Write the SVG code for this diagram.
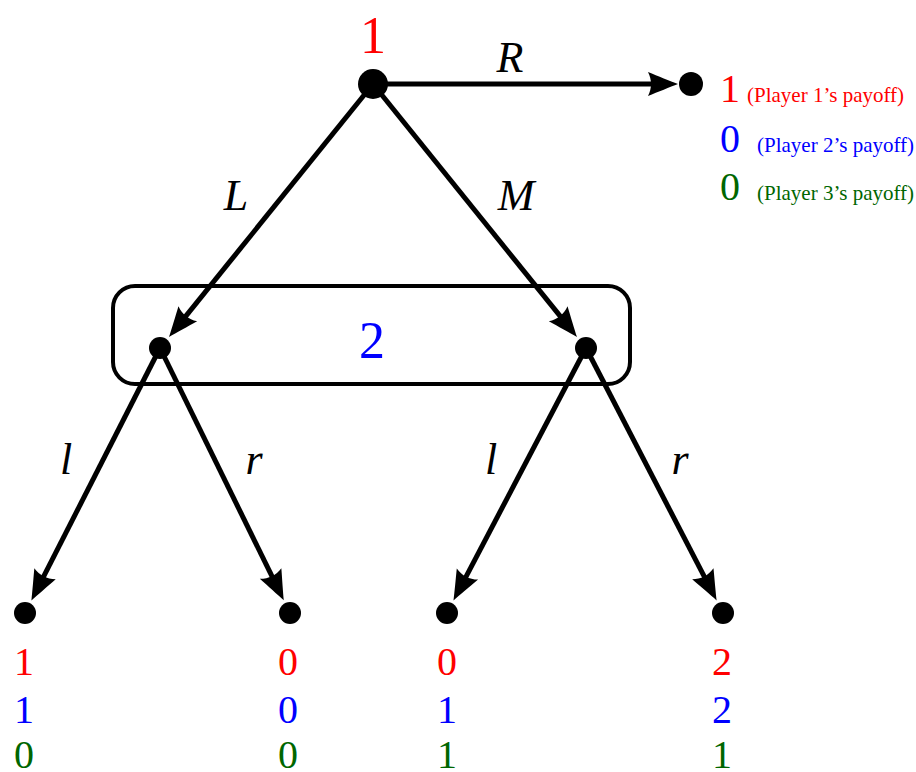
<svg xmlns="http://www.w3.org/2000/svg" width="916" height="772" viewBox="0 0 916 772">
<style>
.e{stroke:#000;stroke-width:5;fill:none;marker-end:url(#ah)}
.d{fill:#000}
text{font-family:'Liberation Serif','Times New Roman','DejaVu Serif',serif;text-anchor:middle}
.i{font-style:italic;font-size:44px}
.n{font-size:40px}
.p{font-size:21px;text-anchor:start}
.red{fill:#ff0000}.blue{fill:#0000ff}.green{fill:#006600}
</style>
<defs>
<marker id="ah" markerUnits="userSpaceOnUse" viewBox="-10 -15 40 30" markerWidth="40" markerHeight="30" refX="0" refY="0" orient="auto" overflow="visible">
<path d="M22,0 C14,-3 2,-8 -8,-12 C-4,-4 -4,4 -8,12 C2,8 14,3 22,0 Z" fill="#000"/>
</marker>
</defs>
<g id="infoset">
<rect x="113" y="286" width="517" height="98" rx="22" ry="22" fill="none" stroke="#000" stroke-width="4"/>
<text class="blue" x="372" y="358" font-size="52">2</text>
</g>
<g id="connectors">
<line class="e" x1="373" y1="84" x2="656" y2="84"/>
<line class="e" x1="373" y1="84" x2="182.8" y2="319.9"/>
<line class="e" x1="373" y1="84" x2="563.2" y2="319.9"/>
<line class="e" x1="160" y1="348" x2="41.4" y2="580.9"/>
<line class="e" x1="160" y1="348" x2="274.1" y2="580.6"/>
<line class="e" x1="586" y1="348" x2="463.7" y2="581.1"/>
<line class="e" x1="586" y1="348" x2="706.5" y2="580.9"/>
<text class="i" x="510" y="72">R</text>
<text class="i" x="236" y="210">L</text>
<text class="i" x="516" y="210">M</text>
<text class="i" x="66" y="474">l</text>
<text class="i" x="254" y="474">r</text>
<text class="i" x="491" y="474">l</text>
<text class="i" x="680" y="474">r</text>
</g>
<g id="root">
<circle class="d" cx="373" cy="84" r="15"/>
<text class="red" x="373" y="53" font-size="52">1</text>
</g>
<g id="term-R">
<circle class="d" cx="691" cy="84" r="12"/>
<text class="n red" x="730" y="102">1</text>
<text class="p red" x="747" y="102">(Player 1’s payoff)</text>
<text class="n blue" x="730" y="152">0</text>
<text class="p blue" x="757" y="152">(Player 2’s payoff)</text>
<text class="n green" x="730" y="200">0</text>
<text class="p green" x="757" y="200">(Player 3’s payoff)</text>
</g>
<g id="p2-left"><circle class="d" cx="160" cy="348" r="11"/></g>
<g id="p2-right"><circle class="d" cx="586" cy="348" r="11"/></g>
<g id="leaf-Ll">
<circle class="d" cx="25" cy="613" r="11"/>
<text class="n red" x="24" y="675">1</text>
<text class="n blue" x="24" y="723">1</text>
<text class="n green" x="24" y="768">0</text>
</g>
<g id="leaf-Lr">
<circle class="d" cx="290" cy="613" r="11"/>
<text class="n red" x="288" y="675">0</text>
<text class="n blue" x="288" y="723">0</text>
<text class="n green" x="288" y="768">0</text>
</g>
<g id="leaf-Ml">
<circle class="d" cx="447" cy="613" r="11"/>
<text class="n red" x="447" y="675">0</text>
<text class="n blue" x="447" y="723">1</text>
<text class="n green" x="447" y="768">1</text>
</g>
<g id="leaf-Mr">
<circle class="d" cx="723" cy="613" r="11"/>
<text class="n red" x="722" y="675">2</text>
<text class="n blue" x="722" y="723">2</text>
<text class="n green" x="722" y="768">1</text>
</g>
</svg>
